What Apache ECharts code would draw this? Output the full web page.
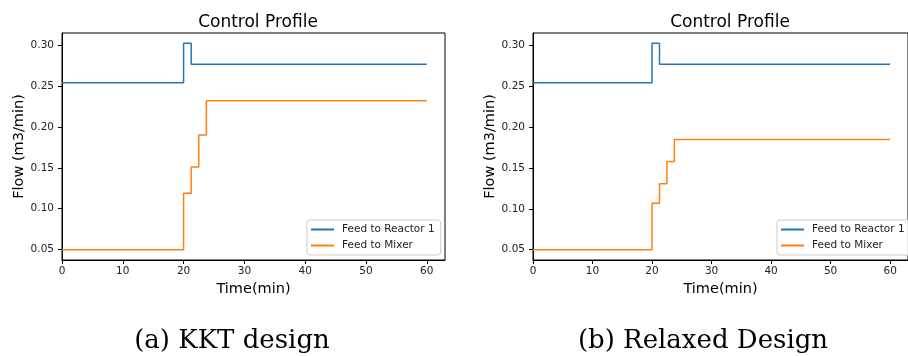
<!DOCTYPE html>
<html>
<head>
<meta charset="utf-8">
<script src="https://cdn.jsdelivr.net/npm/echarts@6/dist/echarts.min.js"></script>
<style>
  html, body { margin: 0; padding: 0; background: #fff; }
  #chart { width: 908px; height: 356px; }
</style>
</head>
<body>
<div id="chart"></div>
<script>
// step times (min)
const reactorTimes = [0, 20, 21.25, 60]
const mixerTimes = [0, 20, 21.25, 22.5, 23.75, 60]

// (a) KKT design
const reactorA = [0.254, 0.302, 0.2765, 0.2765]
const mixerA = [0.05, 0.119, 0.151, 0.190, 0.232, 0.232]

// (b) Relaxed design
const reactorB = [0.2545, 0.303, 0.2772, 0.2772]
const mixerB = [0.05, 0.107, 0.131, 0.158, 0.185, 0.185]

const xTicks = [0, 10, 20, 30, 40, 50, 60]
const yTicks = [0.05, 0.10, 0.15, 0.20, 0.25, 0.30]

const blue = '#1f77b4'
const orange = '#ff7f0e'
const font = 'DejaVu Sans'

const chart = echarts.init(document.getElementById('chart'))

function pairs(xs, ys) {
    return xs.map((x, i) => [x, ys[i]])
}

function xAxis(idx) {
    return {
        type: 'value',
        gridIndex: idx,
        min: 0,
        max: 63,
        name: 'Time(min)',
        nameLocation: 'middle',
        nameGap: 21,
        nameTextStyle: { fontFamily: font, fontSize: 14.5, color: '#000' },
        axisLine: { show: true, onZero: false, lineStyle: { color: '#000', width: 1 } },
        axisTick: { show: true, length: 4, customValues: xTicks, lineStyle: { color: '#000' } },
        axisLabel: { customValues: xTicks, margin: 6, fontFamily: font, fontSize: 10.5, color: '#222' },
        splitLine: { show: false }
    }
}

function yAxis(idx, min, max) {
    return {
        type: 'value',
        gridIndex: idx,
        min: min,
        max: max,
        name: 'Flow (m3/min)',
        nameLocation: 'middle',
        nameGap: 35,
        nameTextStyle: { fontFamily: font, fontSize: 14.5, color: '#000' },
        axisLine: { show: true, onZero: false, lineStyle: { color: '#000', width: 1 } },
        axisTick: { show: true, length: 4, customValues: yTicks, lineStyle: { color: '#000' } },
        axisLabel: {
            customValues: yTicks, margin: 8, fontFamily: font, fontSize: 10.5, color: '#222',
            formatter: v => v.toFixed(2)
        },
        splitLine: { show: false }
    }
}

function lineSeries(name, idx, xs, ys, color) {
    return {
        name: name,
        type: 'line',
        xAxisIndex: idx,
        yAxisIndex: idx,
        step: 'end',
        symbol: 'none',
        animation: false,
        data: pairs(xs, ys),
        lineStyle: { color: color, width: 1.5 },
        itemStyle: { color: color }
    }
}

function legend(left) {
    return {
        left: left,
        top: 220,
        orient: 'vertical',
        align: 'left',
        icon: 'rect',
        itemWidth: 23,
        itemHeight: 2,
        itemGap: 5,
        padding: [4, 6, 4, 4],
        backgroundColor: 'rgba(255,255,255,0.8)',
        borderColor: '#ccc',
        borderWidth: 1,
        borderRadius: 3,
        textStyle: { fontFamily: font, fontSize: 10.5, color: '#222', padding: [0, 0, 0, 3] },
        data: ['Feed to Reactor 1', 'Feed to Mixer']
    }
}

const titleStyle = { fontFamily: font, fontSize: 17, fontWeight: 'normal', color: '#000' }
const captionStyle = { fontFamily: 'DejaVu Serif', fontSize: 26, fontWeight: 'normal', color: '#000' }

const option = {
    animation: false,
    title: [
        { text: 'Control Profile', left: 253, top: 9, textAlign: 'center', textStyle: titleStyle },
        { text: 'Control Profile', left: 725, top: 9, textAlign: 'center', textStyle: titleStyle },
        { text: '(a) KKT design', left: 227, top: 323, textAlign: 'center', textStyle: captionStyle },
        { text: '(b) Relaxed Design', left: 698, top: 323, textAlign: 'center', textStyle: captionStyle }
    ],
    legend: [legend(307), legend(777)],
    grid: [
        { left: 62, top: 33, width: 383, height: 227, show: true, borderColor: '#000', borderWidth: 1 },
        { left: 533, top: 33, width: 383, height: 227, show: true, borderColor: '#000', borderWidth: 1 }
    ],
    xAxis: [xAxis(0), xAxis(1)],
    yAxis: [yAxis(0, 0.0374, 0.3146), yAxis(1, 0.0374, 0.3156)],
    series: [
        lineSeries('Feed to Reactor 1', 0, reactorTimes, reactorA, blue),
        lineSeries('Feed to Mixer', 0, mixerTimes, mixerA, orange),
        lineSeries('Feed to Reactor 1', 1, reactorTimes, reactorB, blue),
        lineSeries('Feed to Mixer', 1, mixerTimes, mixerB, orange)
    ]
}

chart.setOption(option)
</script>
</body>
</html>
